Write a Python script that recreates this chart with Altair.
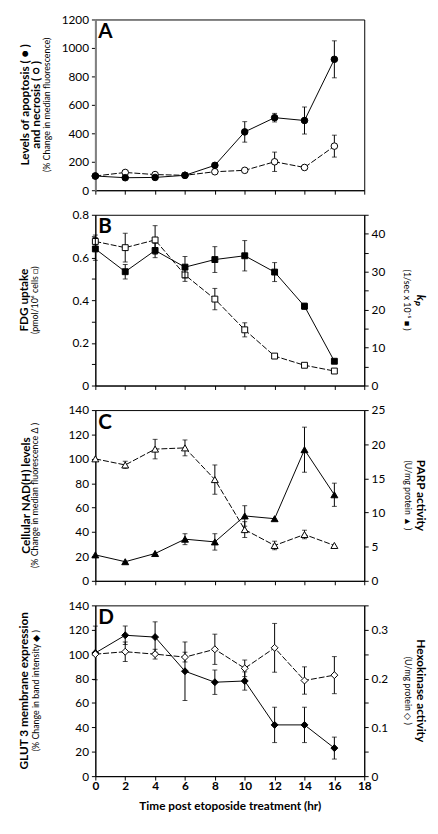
import altair as alt
import pandas as pd

# ---------------- data ----------------
t = [0, 2, 4, 6, 8, 10, 12, 14, 16]

apoptosis = [100, 88, 90, 105, 175, 410, 510, 490, 920]
apoptosis_err = [0, 0, 0, 0, 0, 72, 30, 95, 130]
necrosis = [100, 125, 110, 105, 130, 140, 200, 160, 310]
necrosis_err = [0, 0, 0, 0, 0, 0, 68, 0, 77]

fdg = [0.675, 0.646, 0.682, 0.518, 0.405, 0.261, 0.138, 0.095, 0.068]
fdg_err = [0.03, 0.067, 0.067, 0.03, 0.05, 0.033, 0, 0, 0]
kp = [36.0, 30.0, 35.6, 31.2, 33.2, 34.2, 29.9, 20.9, 6.4]
kp_err = [3.0, 1.9, 1.9, 2.8, 3.4, 4.0, 2.5, 0.8, 0]

nad = [100, 95, 108, 109, 83, 42, 29, 38, 29]
nad_err = [0, 3, 8, 6.5, 12, 6.5, 3.5, 3.5, 0]
parp = [3.8, 2.8, 4.0, 6.1, 5.7, 9.5, 9.1, 19.2, 12.6]
parp_err = [0, 0, 0, 0.8, 1.2, 1.5, 0, 3.3, 1.7]

glut3 = [101, 115.5, 114, 86, 77, 78, 42, 42, 23]
glut3_err = [22, 7.5, 12.5, 24, 10, 7.5, 14.5, 14.5, 9]
hexokinase = [0.25, 0.255, 0.25, 0.244, 0.26, 0.221, 0.263, 0.196, 0.207]
hexokinase_err = [0, 0.02, 0.01, 0.01, 0.031, 0.017, 0.05, 0.028, 0.038]

x_ticks = list(range(0, 19, 2))

FONT = "Lato"
W, H = 274, 174
one = pd.DataFrame({"a": [0]})


def frame(vals, errs):
    return pd.DataFrame({
        "t": t, "v": vals, "e": errs,
        "lo": [v - e for v, e in zip(vals, errs)],
        "hi": [v + e for v, e in zip(vals, errs)],
    })


def xenc(last):
    kw = dict(values=x_ticks, labels=last, labelFlush=False, tickSize=4, ticks=True)
    if last:
        kw.update(title="Time post etoposide treatment (hr)", labelFontWeight="bold",
                  labelPadding=1, titlePadding=9)
    else:
        kw.update(title=None)
    return alt.X("t:Q", scale=alt.Scale(domain=[0, 18], nice=False), axis=alt.Axis(**kw))


def series(df, shape, filled, dash, ydom, yaxis, last, size=45):
    base = alt.Chart(df)
    X = xenc(last)
    ysc = alt.Scale(domain=ydom, nice=False, zero=False)
    line_kw = dict(color="black", strokeWidth=1)
    if dash:
        line_kw["strokeDash"] = dash
    line = base.mark_line(**line_kw).encode(x=X, y=alt.Y("v:Q", scale=ysc, axis=yaxis))
    eb = base.transform_filter("datum.e > 0")
    rule = eb.mark_rule(color="black", strokeWidth=1).encode(
        x=X, y=alt.Y("lo:Q", scale=ysc, axis=yaxis), y2="hi:Q")
    cap_lo = eb.mark_tick(orient="horizontal", size=5, thickness=1, color="black").encode(
        x=X, y=alt.Y("lo:Q", scale=ysc, axis=yaxis))
    cap_hi = eb.mark_tick(orient="horizontal", size=5, thickness=1, color="black").encode(
        x=X, y=alt.Y("hi:Q", scale=ysc, axis=yaxis))
    pts = base.mark_point(shape=shape, filled=True, fill="black" if filled else "white",
                          stroke="black", strokeWidth=1, size=size, opacity=1).encode(
        x=X, y=alt.Y("v:Q", scale=ysc, axis=yaxis))
    return [line, rule, cap_lo, cap_hi, pts]


def txt(text, x, y, size, bold=False, angle=0, align="center", baseline="middle", italic=False):
    kw = dict(text=text, fontSize=size, font=FONT, color="black", align=align, baseline=baseline)
    if bold:
        kw["fontWeight"] = "bold"
    if angle:
        kw["angle"] = angle
    if italic:
        kw["fontStyle"] = "italic"
    return alt.Chart(one).mark_text(**kw).encode(x=alt.value(x), y=alt.value(y))


def letter(ch):
    return txt(ch, 3, 19, 21, bold=True, align="left", baseline="alphabetic")


DASH = [6, 2]

# ---------------- Panel A ----------------
axA = alt.Axis(values=list(range(0, 1201, 200)), title=None, format="d",
               domainColor="#808080", domainWidth=2)
pA = alt.layer(
    *series(frame(necrosis, necrosis_err), "circle", False, DASH, [0, 1200], axA, False, 45),
    *series(frame(apoptosis, apoptosis_err), "circle", True, None, [0, 1200], axA, False, 45),
    letter("A"),
    txt("Levels of apoptosis ( \u25CF )", -72, H / 2, 12, bold=True, angle=270),
    txt("and necrosis ( \u25CB )", -60, H / 2, 12, bold=True, angle=270),
    txt("(% Change in median fluorescence)", -49, H / 2, 9, angle=270),
).properties(width=W, height=H)

# ---------------- Panel B ----------------
axBl = alt.Axis(values=[round(i * 0.1, 1) for i in range(9)], title=None, format="~g",
                labelExpr="round(datum.value*10)%2==0 ? datum.label : ''")
axBr = alt.Axis(orient="right", values=list(range(0, 46, 5)), title=None,
                labelExpr="datum.value%10==0 ? datum.label : ''")
leftB = alt.layer(
    *series(frame(fdg, fdg_err), "square", False, DASH, [0, 0.8], axBl, False, 36),
    letter("B"),
    txt("FDG uptake", -73, H / 2, 12, bold=True, angle=270),
    txt("(pmol/10\u2076 cells \u25A1)", -61, H / 2, 9, angle=270),
)
rightB = alt.layer(
    *series(frame(kp, kp_err), "square", True, None, [0, 45], axBr, False, 36),
    txt("(1/sec x 10\u207B\u2075 \u25A0 )", W + 44, H / 2, 9, angle=90),
    txt("k\u209A", W + 58, H / 2, 12, bold=True, italic=True, angle=90),
)
pB = alt.layer(leftB, rightB).resolve_scale(y="independent").properties(width=W, height=H)

# ---------------- Panel C ----------------
axCl = alt.Axis(values=list(range(0, 141, 20)), title=None)
axCr = alt.Axis(orient="right", values=list(range(0, 26, 5)), title=None)
leftC = alt.layer(
    *series(frame(nad, nad_err), "triangle-up", False, DASH, [0, 140], axCl, False, 50),
    letter("C"),
    txt("Cellular NAD(H) levels", -71, H / 2, 12, bold=True, angle=270),
    txt("(% Change in median fluorescence  \u0394 )", -61, H / 2, 9, angle=270),
)
rightC = alt.layer(
    *series(frame(parp, parp_err), "triangle-up", True, None, [0, 25], axCr, False, 50),
    txt("(U/mg protein \u25B2 )", W + 45, H / 2, 9, angle=90),
    txt("PARP activity", W + 58, H / 2, 12, bold=True, angle=90),
)
pC = alt.layer(leftC, rightC).resolve_scale(y="independent").properties(width=W, height=H)

# ---------------- Panel D ----------------
axDl = alt.Axis(values=list(range(0, 141, 20)), title=None)
axDr = alt.Axis(orient="right", values=[round(i * 0.05, 2) for i in range(8)], title=None,
                format="~g", labelExpr="round(datum.value*100)%10==0 ? datum.label : ''")
leftD = alt.layer(
    *series(frame(glut3, glut3_err), "diamond", True, None, [0, 140], axDl, True, 50),
    letter("D"),
    txt("GLUT 3 membrane expression", -73, H / 2, 12, bold=True, angle=270),
    txt("(% Change in band intensity \u25C6 )", -60, H / 2, 9, angle=270),
)
rightD = alt.layer(
    *series(frame(hexokinase, hexokinase_err), "diamond", False, DASH, [0, 0.35], axDr, True, 50),
    txt("(U/mg protein \u25C7 )", W + 45, H / 2, 9, angle=90),
    txt("Hexokinase activity", W + 58, H / 2, 12, bold=True, angle=90),
)
pD = alt.layer(leftD, rightD).resolve_scale(y="independent").properties(width=W, height=H)

chart = alt.vconcat(pA, pB, pC, pD, spacing=25, bounds="flush").properties(
    padding={"left": 9, "top": -3, "right": 2, "bottom": 0}
).configure_view(stroke="black", strokeWidth=1).configure_axis(
    labelFont=FONT, labelFontSize=12, labelColor="black", tickColor="black",
    domainColor="black", tickSize=4, labelPadding=3, grid=False,
    titleFont=FONT, titleFontSize=12, titleFontWeight="bold", titleColor="black",
    labelOverlap=False,
)

chart.save("out.html", embed_options={"renderer": "svg", "actions": False})
